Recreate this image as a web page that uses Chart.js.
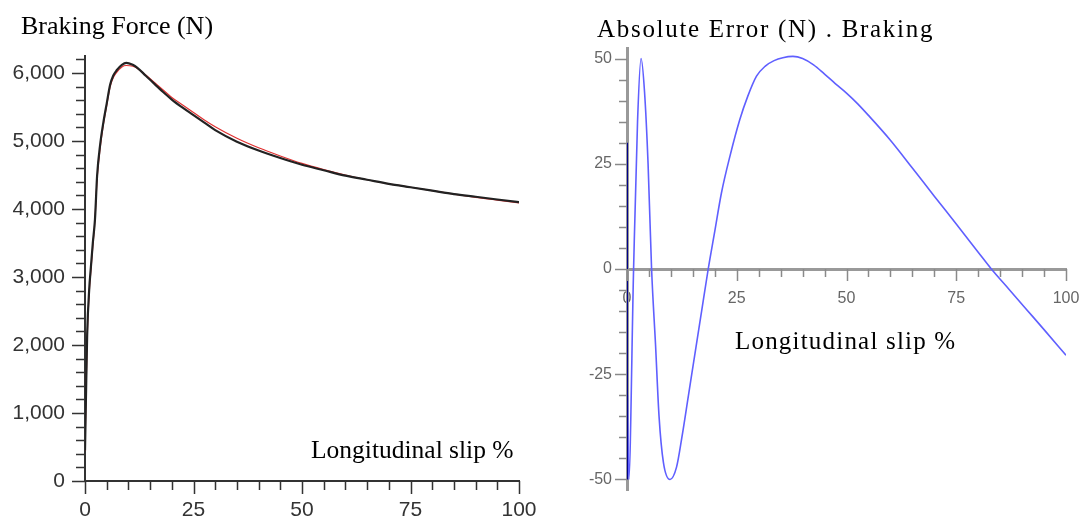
<!DOCTYPE html>
<html>
<head>
<meta charset="utf-8">
<script src="https://cdn.jsdelivr.net/npm/chart.js@4.4.0/dist/chart.umd.min.js"></script>
<style>
body { margin: 0; width: 1082px; height: 522px; background: #fff; position: relative; overflow: hidden; }
canvas { position: absolute; top: 0; }
.lbl { position: absolute; font-family: "Liberation Serif", "Times New Roman", serif; color: #000; white-space: nowrap; line-height: 1; }
</style>
</head>
<body>
<canvas id="force" width="545" height="522" style="left:0"></canvas>
<canvas id="error" width="537" height="522" style="left:545px"></canvas>
<div class="lbl" style="left:21px;top:13px;font-size:26px">Braking Force (N)</div>
<div class="lbl" style="left:311px;top:437px;font-size:25.5px">Longitudinal slip %</div>
<div class="lbl" style="left:597px;top:16px;font-size:25px;letter-spacing:1.7px">Absolute Error (N) . Braking</div>
<div class="lbl" style="left:735px;top:328px;font-size:25px;letter-spacing:1.2px">Longitudinal slip %</div>
<script>
// left chart: braking force vs slip
const slip = [0, 0.2, 0.5, 1, 1.3, 1.8, 2.3, 2.8, 3.5, 4.2, 5, 5.8, 6.5, 7.3, 8.5, 9.5, 11, 12, 14, 16, 18, 20, 22.5, 25, 27.5, 30, 35, 40, 45, 50, 55, 60, 65, 70, 75, 80, 85, 90, 95, 100]
const forceModel = [450, 1150, 2150, 2850, 3100, 3500, 3850, 4500, 4950, 5260, 5550, 5830, 5960, 6040, 6120, 6150, 6120, 6080, 5960, 5840, 5720, 5610, 5490, 5380, 5270, 5160, 4990, 4860, 4750, 4650, 4570, 4490, 4430, 4370, 4320, 4270, 4220, 4180, 4140, 4100]
const forceMeasured = [450, 1150, 2100, 2800, 3050, 3450, 3850, 4450, 4900, 5230, 5520, 5800, 5930, 6010, 6090, 6110, 6100, 6070, 5970, 5860, 5750, 5640, 5530, 5420, 5310, 5210, 5040, 4900, 4780, 4670, 4580, 4500, 4430, 4370, 4320, 4270, 4220, 4170, 4130, 4090]
const forceTicks = [0, 1000, 2000, 3000, 4000, 5000, 6000]

// right chart: absolute error vs slip
const startSlip = [0, 0]
const startErr = [30, -50]
const errSlip = [0.1, 0.4, 1.5, 2.4, 3.2, 4.0, 4.8, 5.6, 6.5, 7.3, 8.3, 9.8, 11.3, 12.5, 14, 15.5, 17, 18.5, 20, 21.5, 23.5, 25.7, 27.5, 29.5, 31.5, 33.5, 35.5, 37.8, 40, 42.5, 45, 47.5, 50, 52.5, 55, 60, 65, 70, 75, 80, 83, 87, 91, 95, 100]
const errValues = [-30, -50, 0, 35, 50, 42, 25, 0, -18, -35, -46, -50, -47, -40, -30, -20, -10, 0, 9, 18, 27, 35.5, 41, 45.8, 48.2, 49.5, 50.2, 50.5, 50, 48.5, 46.3, 44, 41.8, 39.3, 36.5, 30.6, 24, 17.3, 10.7, 4, 0, -4.8, -9.6, -14.4, -20.5]
const slipTicks = [0, 25, 50, 75, 100]
const errTicks = [-50, -25, 0, 25, 50]

const pts = (xs, ys) => xs.map((x, i) => ({x: x, y: ys[i]}))

// small/large tick marks drawn from the scales
const tickMarks = {
    id: 'tickMarks',
    afterDraw(chart, args, o) {
        const ctx = chart.ctx
        const xs = chart.scales.x
        const ys = chart.scales.y
        const axisY = o.xAtZero ? ys.getPixelForValue(0) : chart.chartArea.bottom
        const axisX = chart.chartArea.left
        ctx.save()
        ctx.strokeStyle = o.color
        ctx.lineWidth = o.width
        ctx.beginPath()
        for (let v = Math.ceil(xs.min / o.xStep) * o.xStep; v <= xs.max + 1e-6; v += o.xStep) {
            const p = Math.round(xs.getPixelForValue(v)) + 0.5
            const len = Math.abs(v % o.xMajor) < 1e-6 ? o.major : o.minor
            ctx.moveTo(p, axisY)
            ctx.lineTo(p, axisY + len)
        }
        for (let v = Math.ceil(ys.min / o.yStep) * o.yStep; v <= ys.max + 1e-6; v += o.yStep) {
            const p = Math.round(ys.getPixelForValue(v)) + 0.5
            const len = Math.abs(v % o.yMajor) < 1e-6 ? o.major : o.minor
            ctx.moveTo(axisX, p)
            ctx.lineTo(axisX - len, p)
        }
        ctx.stroke()
        ctx.restore()
    }
}

new Chart(document.getElementById('force'), {
    type: 'line',
    data: {
        datasets: [{
            data: pts(slip, forceModel),
            borderColor: '#222',
            borderWidth: 2.2,
            pointRadius: 0,
            cubicInterpolationMode: 'monotone'
        }, {
            data: pts(slip, forceMeasured),
            borderColor: '#e03030',
            borderWidth: 1.2,
            pointRadius: 0,
            cubicInterpolationMode: 'monotone'
        }]
    },
    options: {
        responsive: false,
        animation: false,
        layout: {padding: {top: 56, right: 26, left: 0, bottom: 0}},
        plugins: {
            legend: {display: false},
            tooltip: {enabled: false},
            tickMarks: {color: '#333', width: 1.5, xStep: 5, xMajor: 25, yStep: 200, yMajor: 1000, major: 13, minor: 9}
        },
        scales: {
            x: {
                type: 'linear', min: 0, max: 100,
                grid: {display: false, drawTicks: false},
                border: {color: '#333', width: 2},
                afterFit: s => { s.height = 41; s.paddingLeft = 0; s.paddingRight = 0 },
                afterBuildTicks: s => { s.ticks = slipTicks.map(v => ({value: v})) },
                ticks: {color: '#333', padding: 17, font: {family: 'Liberation Sans', size: 21}, maxRotation: 0}
            },
            y: {
                type: 'linear', min: 0, max: 6250,
                grid: {display: false, drawTicks: false},
                border: {color: '#333', width: 2},
                afterFit: s => { s.width = 85 },
                afterBuildTicks: s => { s.ticks = forceTicks.map(v => ({value: v})) },
                ticks: {
                    color: '#333', padding: 20, font: {family: 'Liberation Sans', size: 21},
                    callback: v => v.toLocaleString('en-US')
                }
            }
        }
    },
    plugins: [tickMarks]
})

new Chart(document.getElementById('error'), {
    type: 'line',
    data: {
        datasets: [{
            data: pts(startSlip, startErr),
            borderColor: '#00008b',
            borderWidth: 2,
            pointRadius: 0
        }, {
            data: pts(errSlip, errValues),
            borderColor: 'rgb(95,95,255)',
            borderWidth: 1.6,
            pointRadius: 0,
            cubicInterpolationMode: 'monotone'
        }]
    },
    options: {
        responsive: false,
        animation: false,
        layout: {padding: {top: 48, right: 16, left: 0, bottom: 32}},
        plugins: {
            legend: {display: false},
            tooltip: {enabled: false},
            tickMarks: {color: '#8a8a8a', width: 1.5, xAtZero: true, xStep: 5, xMajor: 25, yStep: 5, yMajor: 25, major: 12, minor: 8}
        },
        scales: {
            x: {
                type: 'linear', min: 0, max: 100, position: {y: 0},
                grid: {display: false, drawTicks: false},
                border: {color: '#999', width: 3},
                afterFit: s => { s.paddingLeft = 0; s.paddingRight = 0 },
                afterBuildTicks: s => { s.ticks = slipTicks.map(v => ({value: v})) },
                ticks: {color: '#666', padding: 20, font: {family: 'Liberation Sans', size: 16}, maxRotation: 0}
            },
            y: {
                type: 'linear', min: -52.5, max: 52.5,
                grid: {display: false, drawTicks: false},
                border: {color: '#999', width: 3},
                afterFit: s => { s.width = 82 },
                afterBuildTicks: s => { s.ticks = errTicks.map(v => ({value: v})) },
                ticks: {color: '#666', padding: 15, font: {family: 'Liberation Sans', size: 16}}
            }
        }
    },
    plugins: [tickMarks]
})
</script>
</body>
</html>
